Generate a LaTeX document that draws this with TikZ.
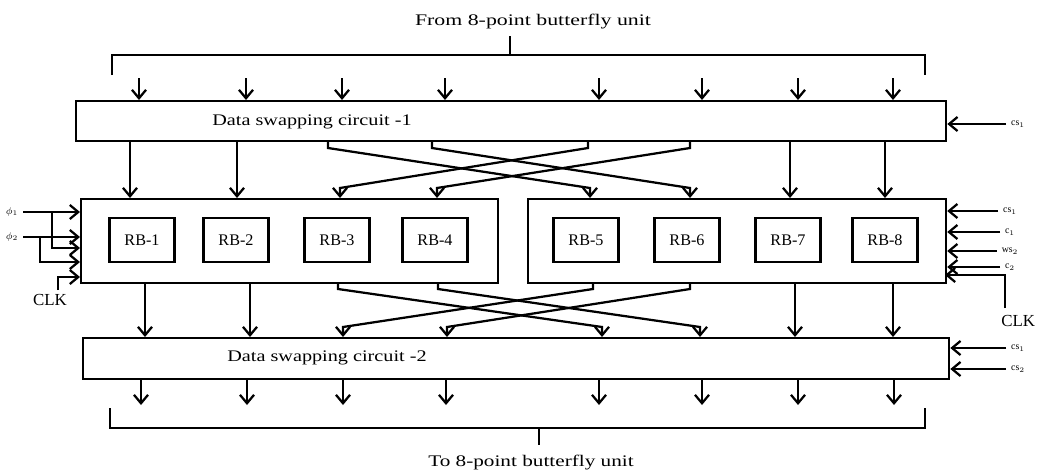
\documentclass[tikz,border=0pt]{standalone}
\usepackage{fontspec}
\setmainfont{Liberation Serif}
\usetikzlibrary{arrows.meta,positioning,calc}

\tikzset{
    blk/.style={draw,line width=1.5pt,inner sep=0pt,anchor=north west},
    rbbox/.style={draw,line width=1.5pt,minimum width=1.625cm,minimum height=1.1cm,inner sep=0pt,font=\fontsize{11.5}{14}\selectfont},
    arr/.style={line width=1.6pt,-{Straight Barb[length=6pt,width=10pt]}},
    ln/.style={line width=1.5pt},
    lbl/.style={font=\fontsize{11.5}{13}\selectfont,xscale=1.25,transform shape},
    tiny/.style={font=\fontsize{7}{8}\selectfont},
}

\begin{document}
\begin{tikzpicture}[x=0.025cm,y=-0.025cm,line cap=butt,line join=miter]
    \useasboundingbox (0,0) rectangle (1040,475);

    % --- Blocks ---
    \node[blk,minimum width=21.75cm,minimum height=1cm] (dsc1) at (75,100) {};
    \node[blk,minimum width=10.425cm,minimum height=2.1cm] (rbL) at (80,198) {};
    \node[blk,minimum width=10.45cm,minimum height=2.1cm] (rbR) at (527,198) {};
    \node[blk,minimum width=21.65cm,minimum height=1.025cm] (dsc2) at (82,337) {};

    \node[lbl] (dsc1lbl) at (312,122) {Data swapping circuit -1};
    \node[lbl] (dsc2lbl) at (327,358) {Data swapping circuit -2};

    % register blocks
    \foreach \x [count=\i] in {142,236,337,435,586,687,788,885}
        \node[rbbox] (rb\i) at (\x,240) {RB-\i};

    % --- From 8-point butterfly unit ---
    \node[lbl,xscale=1.08] (top) at (533,22) {From 8-point butterfly unit};
    \coordinate (tl) at (112,75);
    \coordinate (tr) at (925,75);
    \draw[ln] (tl) -- ++(0,-20) -| (tr);
    \draw[ln] (510,55) -- (510,36);
    \foreach \x in {139,246,342,445,599,702,798,893}
        \draw[arr] (\x,78) -- (\x,0 |- dsc1.north);

    % --- DSC-1 to RB ---
    \foreach \x in {130,237}
        \draw[arr] (\x,0 |- dsc1.south) -- (\x,0 |- rbL.north);
    \foreach \x in {790,885}
        \draw[arr] (\x,0 |- dsc1.south) -- (\x,0 |- rbR.north);
    \foreach \s/\d in {328/590,432/690,588/340,690/437}
        \draw[arr] (\s,0 |- dsc1.south) -- (\s,148) -- (\d,188) -- (\d,0 |- rbL.north);

    % --- RB to DSC-2 ---
    \foreach \x in {145,250}
        \draw[arr] (\x,0 |- rbL.south) -- (\x,0 |- dsc2.north);
    \foreach \x in {795,893}
        \draw[arr] (\x,0 |- rbR.south) -- (\x,0 |- dsc2.north);
    \foreach \s/\d in {338/602,438/700,593/343,690/447}
        \draw[arr] (\s,0 |- rbL.south) -- (\s,289) -- (\d,327) -- (\d,0 |- dsc2.north);

    % --- To 8-point butterfly unit ---
    \foreach \x in {141,247,343,446,599,702,798,894}
        \draw[arr] (\x,0 |- dsc2.south) -- (\x,405);
    \coordinate (bl) at (110,408);
    \coordinate (br) at (925,408);
    \draw[ln] (bl) -- ++(0,20) -| (br);
    \draw[ln] (539,428) -- (539,445);
    \node[lbl,xscale=1.05] (bot) at (531,463) {To 8-point butterfly unit};

    % --- control inputs, left ---
    \node[tiny] (phA) at (12,212) {$\phi_1$};
    \node[tiny] (phB) at (12,237) {$\phi_2$};
    \draw[arr] (phA.east) -- (phA.east -| rbL.west);
    \draw[arr] (52,212) -- (52,248) -- (80,248);
    \draw[arr] (phB.east) -- (phB.east -| rbL.west);
    \draw[arr] (40,237) -- (40,262) -- (80,262);
    \node[font=\fontsize{12}{14}\selectfont] (clkL) at (50,300) {CLK};
    \draw[arr] (58,290) -- (58,277) -- (80,277);

    % --- control inputs, right ---
    \node[tiny] (cs1) at (1018,124) {cs$_1$};
    \draw[arr] (cs1.west) -- (cs1.west -| dsc1.east);
    \foreach \y/\t [count=\i] in {211/cs$_1$,232/c$_1$,251/ws$_2$,267/c$_2$} {
        \node[tiny] (rc\i) at (1010,\y) {\t};
        \draw[arr] (rc\i.west) -- (rc\i.west -| rbR.east);
    }
    \node[font=\fontsize{12}{14}\selectfont,anchor=east] (clkR) at (1040,321) {CLK};
    \draw[arr] (1005,308) -- (1005,275) -- (945,275);
    \node[tiny] (cs2a) at (1018,348) {cs$_1$};
    \node[tiny] (cs2b) at (1018,369) {cs$_2$};
    \draw[arr] (cs2a.west) -- (cs2a.west -| dsc2.east);
    \draw[arr] (cs2b.west) -- (cs2b.west -| dsc2.east);
\end{tikzpicture}
\end{document}
